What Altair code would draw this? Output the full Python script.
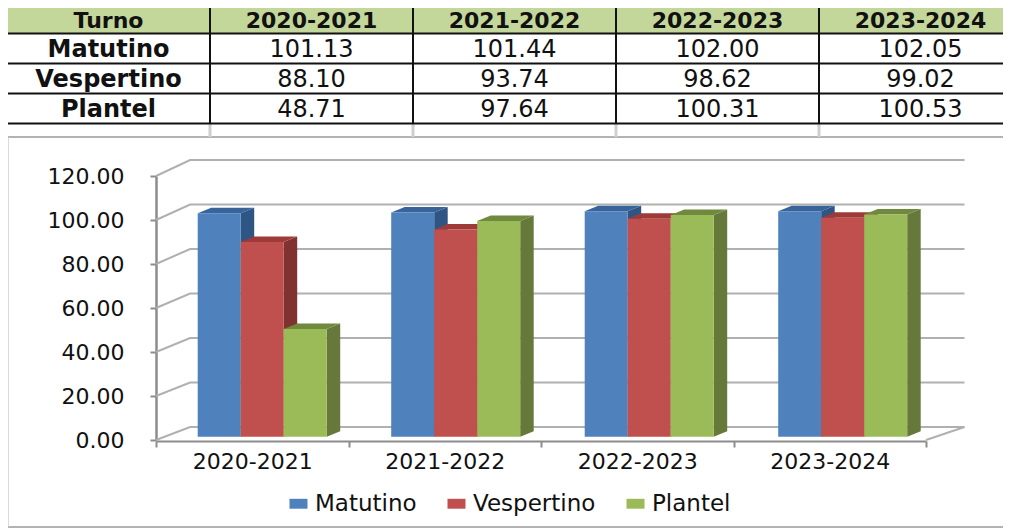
import altair as alt
import pandas as pd

YEARS = ["2020-2021", "2021-2022", "2022-2023", "2023-2024"]
SERIES = ["Matutino", "Vespertino", "Plantel"]
MATUTINO = [101.13, 101.44, 102.00, 102.05]
VESPERTINO = [88.10, 93.74, 98.62, 99.02]
PLANTEL = [48.71, 97.64, 100.31, 100.53]
LABELS = ["101.13", "101.44", "102.00", "102.05", "88.10", "93.74", "98.62", "99.02",
          "48.71", "97.64", "100.31", "100.53"]
TICKS = [0, 20, 40, 60, 80, 100, 120]
FRONT = ["#4F81BD", "#C0504D", "#9BBB59"]
TOP = ["#38639B", "#9E3B39", "#6F8A3F"]
SIDE = ["#2F5585", "#7F3230", "#66793A"]
FONT = "DejaVu Sans"
FS_AXIS = 22
FS_LEGEND = 23
FS_TABLE = 24
FS_HEAD = 22
TEXT = "#111111"

# perspective of the fake 3D box, in axis units
BAR_SCALE, BAR_LIFT = 2.21 / 2.2, 1.5
DEPTH_X, DEPTH_Y = 13.5 / 193.5, 2.5
BACK_SCALE, BACK_LIFT = 267 / 264, 13 / 2.2

VALUES = [MATUTINO, VESPERTINO, PLANTEL]
fronts, tops, sides = [], [], []
for s, name in enumerate(SERIES):
    for g, year in enumerate(YEARS):
        v = VALUES[s][g]
        x0, x1 = g + s * 2 / 9, g + (s + 1) * 2 / 9
        y0, y1 = BAR_LIFT, v * BAR_SCALE + BAR_LIFT
        key = f"{year}/{name}"
        fronts.append(dict(series=name, year=year, value=v, x0=x0, x1=x1, y0=y0, y1=y1))
        tops += [dict(series=name, key=key, y=y1, xa=x0, xb=x1),
                 dict(series=name, key=key, y=y1 + DEPTH_Y, xa=x0 + DEPTH_X, xb=x1 + DEPTH_X)]
        sides += [dict(series=name, key=key, x=x1, ya=y1, yb=y0),
                  dict(series=name, key=key, x=x1 + DEPTH_X, ya=y1 + DEPTH_Y, yb=y0 + DEPTH_Y)]
fronts, tops, sides = map(pd.DataFrame, (fronts, tops, sides))

wall = []
for t in TICKS:
    back = t * BACK_SCALE + BACK_LIFT
    wall += [dict(t=t, o=0, x=0.0, y=t), dict(t=t, o=1, x=0.177, y=back), dict(t=t, o=2, x=4.2, y=back)]
wall = pd.DataFrame(wall)
floor_right = pd.DataFrame([dict(x=4.0, y=0.0), dict(x=4.2, y=BACK_LIFT)])

x_axis = alt.Scale(type="band", domain=YEARS, range=[0, 770])
y_axis = alt.Scale(domain=[0, 120], range=[264, 0], nice=False, zero=False)
x_bar = alt.Scale(domain=[0, 4], range=[41.7, 815.7], nice=False, zero=False)
x_wall = alt.Scale(domain=[0, 4], range=[0, 770], nice=False, zero=False)
x_tab = alt.Scale(domain=[0, 5], range=[-149, 866], nice=False, zero=False)
y_tab = alt.Scale(domain=[0, 4], range=[-172.5, -52.5], nice=False, zero=False)

GRID = "#B0B0B0"
AXC = "#8C8C8C"

axes = alt.Chart(pd.DataFrame({"year": YEARS * 2, "v": [0] * 4 + [120] * 4})).mark_point(opacity=0).encode(
    x=alt.X("year:N", scale=x_axis, title=None, axis=alt.Axis(
        labelAngle=0, tickBand="extent", labelFont=FONT, labelFontSize=FS_AXIS, labelColor=TEXT,
        labelPadding=4, tickSize=6, tickWidth=2, tickColor=AXC, domainColor=AXC, domainWidth=2,
        grid=False, offset=1)),
    y=alt.Y("v:Q", scale=y_axis, title=None, axis=alt.Axis(
        values=TICKS, format=".2f", labelFont=FONT, labelFontSize=FS_AXIS, labelColor=TEXT,
        labelPadding=26, tickSize=6, tickWidth=2, tickColor=AXC, domainColor=AXC, domainWidth=2.5,
        grid=False)),
)

wall_lines = alt.Chart(wall).mark_line(color=GRID, strokeWidth=2).encode(
    x=alt.X("x:Q", scale=x_wall, axis=None),
    y=alt.Y("y:Q", scale=y_axis, axis=None),
    detail="t:N", order="o:Q",
)
floor_line = alt.Chart(floor_right).mark_line(color=GRID, strokeWidth=2).encode(
    x=alt.X("x:Q", scale=x_wall, axis=None),
    y=alt.Y("y:Q", scale=y_axis, axis=None),
)

side_faces = alt.Chart(sides).mark_area(orient="vertical").encode(
    x=alt.X("x:Q", scale=x_bar, axis=None),
    y=alt.Y("ya:Q", scale=y_axis, axis=None, stack=None),
    y2="yb:Q",
    detail="key:N",
    color=alt.Color("series:N", scale=alt.Scale(domain=SERIES, range=SIDE), legend=None),
)
top_faces = alt.Chart(tops).mark_area(orient="horizontal").encode(
    y=alt.Y("y:Q", scale=y_axis, axis=None),
    x=alt.X("xa:Q", scale=x_bar, axis=None, stack=None),
    x2="xb:Q",
    detail="key:N",
    color=alt.Color("series:N", scale=alt.Scale(domain=SERIES, range=TOP), legend=None),
)
front_faces = alt.Chart(fronts).mark_rect().encode(
    x=alt.X("x0:Q", scale=x_bar, axis=None),
    x2="x1:Q",
    y=alt.Y("y0:Q", scale=y_axis, axis=None),
    y2="y1:Q",
    color=alt.Color("series:N", sort=SERIES, scale=alt.Scale(domain=SERIES, range=FRONT), title=None,
                    legend=alt.Legend(orient="none", legendX=131, legendY=316, direction="horizontal",
                                      columns=3, symbolType="M-1,-0.55H1V0.55H-1Z", symbolSize=324,
                                      symbolStrokeWidth=0, labelFont=FONT, labelFontSize=FS_LEGEND,
                                      labelColor=TEXT, labelOffset=5, columnPadding=28, labelLimit=200)),
)

# table
header = ["Turno"] + YEARS
head_fill = alt.Chart(pd.DataFrame([dict(a=0, b=5, c=0, d=1)])).mark_rect(color="#C4D79B").encode(
    x=alt.X("a:Q", scale=x_tab, axis=None), x2="b:Q",
    y=alt.Y("c:Q", scale=y_tab, axis=None), y2="d:Q",
)
hlines = alt.Chart(pd.DataFrame({"r": [0, 1, 2, 3, 4], "a": [0] * 5, "b": [5] * 5})).mark_rule(color="#111111", strokeWidth=2).encode(
    y=alt.Y("r:Q", scale=y_tab, axis=None),
    x=alt.X("a:Q", scale=x_tab, axis=None), x2="b:Q",
)
vlines = alt.Chart(pd.DataFrame({"c": [0, 1, 2, 3, 4, 5], "a": [0] * 6, "b": [4] * 6})).mark_rule(color="#111111", strokeWidth=2).encode(
    x=alt.X("c:Q", scale=x_tab, axis=None),
    y=alt.Y("a:Q", scale=y_tab, axis=None), y2="b:Q",
)
stubs = alt.Chart(pd.DataFrame({"c": [1, 2, 3, 4], "a": [4] * 4, "b": [4.45] * 4})).mark_rule(color="#CFCFCF", strokeWidth=3).encode(
    x=alt.X("c:Q", scale=x_tab, axis=None),
    y=alt.Y("a:Q", scale=y_tab, axis=None), y2="b:Q",
)

head_rows = pd.DataFrame([dict(c=i + 0.5, r=0.59, t=h) for i, h in enumerate(header)])
name_rows = pd.DataFrame([dict(c=0.5, r=i + 1.5, t=n) for i, n in enumerate(SERIES)])
value_rows = pd.DataFrame(
    [dict(c=g + 1.5, r=s + 1.5, t=LABELS[s * 4 + g]) for s in range(3) for g in range(4)]
)
head_text = alt.Chart(head_rows).mark_text(font=FONT, fontSize=FS_HEAD, fontWeight="bold", color=TEXT, baseline="middle").encode(
    x=alt.X("c:Q", scale=x_tab, axis=None), y=alt.Y("r:Q", scale=y_tab, axis=None), text="t:N",
)
name_text = alt.Chart(name_rows).mark_text(font=FONT, fontSize=FS_TABLE, fontWeight="bold", color=TEXT, baseline="middle", dy=1.5).encode(
    x=alt.X("c:Q", scale=x_tab, axis=None), y=alt.Y("r:Q", scale=y_tab, axis=None), text="t:N",
)
value_text = alt.Chart(value_rows).mark_text(font=FONT, fontSize=FS_TABLE, color=TEXT, baseline="middle", dy=1.5).encode(
    x=alt.X("c:Q", scale=x_tab, axis=None), y=alt.Y("r:Q", scale=y_tab, axis=None), text="t:N",
)

# outer frame of the chart picture, relative to the plot origin
frame_top = alt.Chart(pd.DataFrame({"k": [0]})).mark_rule(color="#9A9A9A", strokeWidth=1.5).encode(
    x=alt.value(-148), x2=alt.value(860), y=alt.value(-39))
frame_bottom = alt.Chart(pd.DataFrame({"k": [0]})).mark_rule(color="#9A9A9A", strokeWidth=1.5).encode(
    x=alt.value(-148), x2=alt.value(860), y=alt.value(351))
frame_left = alt.Chart(pd.DataFrame({"k": [0]})).mark_rule(color="#CFCFCF", strokeWidth=1.5).encode(
    x=alt.value(-148), y=alt.value(-39), y2=alt.value(351))

chart = alt.layer(
    frame_top, frame_bottom, frame_left,
    head_fill, stubs, hlines, vlines, head_text, name_text, value_text,
    wall_lines, floor_line, axes,
    side_faces, top_faces, front_faces,
).resolve_scale(x="independent", y="independent", color="independent").properties(
    width=770, height=264,
    padding={"left": 148, "top": 168, "right": 77, "bottom": 89},
    autosize=alt.AutoSizeParams(type="none"),
    background="white",
).configure_view(stroke=None)

chart.save("out.html", embed_options={"renderer": "svg", "actions": False})
